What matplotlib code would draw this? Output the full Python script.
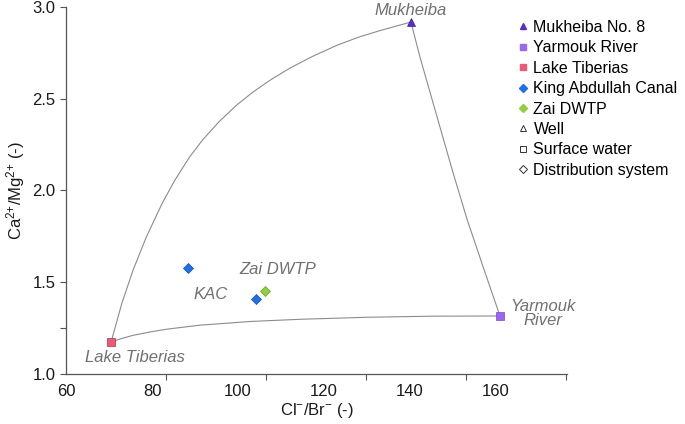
import numpy as np
import matplotlib
matplotlib.use('Agg')
import matplotlib.pyplot as plt
from matplotlib.lines import Line2D

plt.rcParams['font.family'] = 'Liberation Sans'
plt.rcParams['mathtext.default'] = 'regular'
plt.rcParams['font.size'] = 12

# end members and samples (Cl/Br, Ca/Mg)
names = ['Mukheiba No. 8', 'Yarmouk River', 'Lake Tiberias', 'King Abdullah Canal', 'Zai DWTP']
cl_br = [[140.2], [160.9], [70.5], [88.4, 104.2], [106.3]]
ca_mg = [[2.918], [1.316], [1.174], [1.578, 1.410], [1.450]]
markers = ['^', 's', 's', 'D', 'D']
colors = ['#5530c8', '#9b66f0', '#ec5a78', '#1f6fe8', '#90d040']
edges = ['#3a1d94', '#7a48d0', '#b03048', '#1450b0', '#6aa028']

# mixing curves
mix_lake_muk_x = [70.47, 72.98, 75.60, 78.70, 82.35, 85.33, 88.74, 91.74, 95.58, 99.70,
                  103.56, 107.51, 112.0, 117.16, 123.14, 128.35, 132.95, 140.2]
mix_lake_muk_y = [1.174, 1.385, 1.567, 1.748, 1.930, 2.057, 2.183, 2.275, 2.375, 2.466,
                  2.538, 2.602, 2.666, 2.729, 2.793, 2.838, 2.871, 2.918]
mix_muk_yar_x = [140.2, 142.3, 149.8, 153.3, 157.0, 160.9]
mix_muk_yar_y = [2.918, 2.727, 2.112, 1.839, 1.583, 1.316]
mix_lake_yar_x = [70.5, 72.56, 75.65, 79.53, 83.42, 91.16, 102.79, 114.42, 129.93, 145.42, 160.9]
mix_lake_yar_y = [1.174, 1.191, 1.211, 1.229, 1.244, 1.266, 1.286, 1.298, 1.309, 1.315, 1.316]

fig = plt.figure(figsize=(6.85, 4.24), dpi=100)
ax = fig.add_axes([0.0964, 0.118, 0.7314, 0.8655])

for xs, ys in [(mix_lake_muk_x, mix_lake_muk_y), (mix_muk_yar_x, mix_muk_yar_y), (mix_lake_yar_x, mix_lake_yar_y)]:
    ax.plot(xs, ys, color='#8c8c8c', lw=0.8, zorder=1, solid_joinstyle='round')

handles = []
for n, xs, ys, m, c, e in zip(names, cl_br, ca_mg, markers, colors, edges):
    ms = 6 if m == '^' else 5.5
    ax.plot(xs, ys, ls='none', marker=m, ms=ms, mfc=c, mec=e, mew=0.5, zorder=3)
    handles.append(Line2D([], [], ls='none', marker=m, ms=4.5, mfc=c, mec=c, label=n))
for n, m in [('Well', '^'), ('Surface water', 's'), ('Distribution system', 'D')]:
    handles.append(Line2D([], [], ls='none', marker=m, ms=4.5, mfc='white', mec='#333333', mew=0.7, label=n))

lab = dict(color='#707070', style='italic', fontsize=12)
ax.text(140.2, 2.98, 'Mukheiba', ha='center', va='center', **lab)
ax.text(171.0, 1.33, 'Yarmouk\nRiver', ha='center', va='center', linespacing=0.85, **lab)
ax.text(76.0, 1.09, 'Lake Tiberias', ha='center', va='center', **lab)
ax.text(93.7, 1.435, 'KAC', ha='center', va='center', **lab)
ax.text(109.3, 1.57, 'Zai DWTP', ha='center', va='center', **lab)

ax.set_xlim(60, 176.5)
ax.set_ylim(1.0, 3.0)
ax.set_xticks([60, 80, 100, 120, 140, 160])
ax.tick_params(axis='x', length=0, pad=7)
ax.set_xticks([60, 83.26, 106.5, 129.8, 153.0, 176.3], minor=True)
ax.tick_params(axis='x', which='minor', length=4, width=0.8, color='#555555')
ax.set_yticks([1.0, 1.5, 2.0, 2.5, 3.0])
ax.set_yticks([1.25], minor=True)
ax.tick_params(axis='y', which='both', length=4, width=0.8, color='#555555')
ax.tick_params(labelsize=12, labelcolor='#1a1a1a')
for s in ['top', 'right']:
    ax.spines[s].set_visible(False)
for s in ['left', 'bottom']:
    ax.spines[s].set_color('#555555')
    ax.spines[s].set_linewidth(0.9)

ax.set_xlabel('Cl$^{-}$/Br$^{-}$ (-)', fontsize=12, color='#1a1a1a', labelpad=2)
ax.set_ylabel('Ca$^{2{+}}$/Mg$^{2{+}}$ (-)', fontsize=12, color='#1a1a1a', labelpad=4)

fig.legend(handles=handles, loc='upper left', bbox_to_anchor=(0.745, 0.972), frameon=False,
           fontsize=11.5, handlelength=0.6, handletextpad=0.35, labelspacing=0.34, borderpad=0)

fig.savefig('out.png', dpi=100)
